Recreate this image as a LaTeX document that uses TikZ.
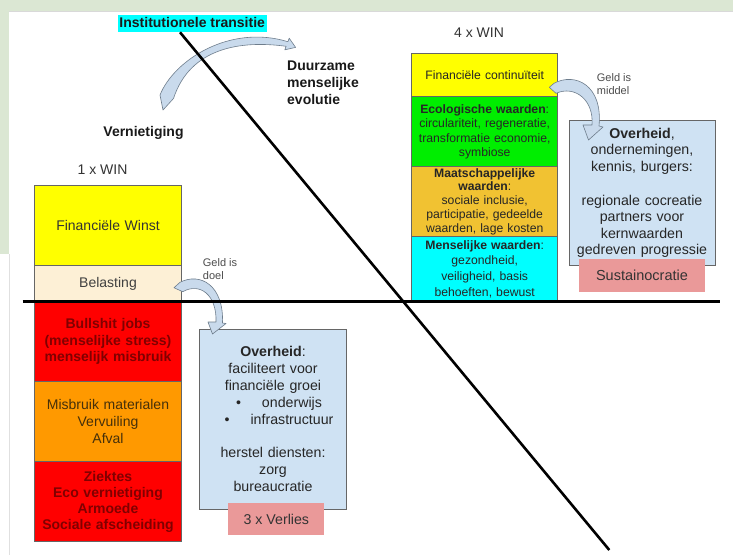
\documentclass[tikz,border=0pt]{standalone}
\usepackage{fontspec}
\setmainfont{Liberation Sans}
\usetikzlibrary{positioning}

\definecolor{achtergrond}{RGB}{219,231,211}
\definecolor{geel}{RGB}{255,255,0}
\definecolor{room}{RGB}{253,240,214}
\definecolor{rood}{RGB}{255,0,0}
\definecolor{oranje}{RGB}{255,153,0}
\definecolor{groen}{RGB}{0,238,0}
\definecolor{goud}{RGB}{241,194,50}
\definecolor{cyaan}{RGB}{0,255,255}
\definecolor{lichtblauw}{RGB}{207,226,243}
\definecolor{roze}{RGB}{234,153,153}
\definecolor{donkerrood}{RGB}{128,0,0}
\definecolor{bruin}{RGB}{70,48,10}
\definecolor{pijlblauw}{RGB}{201,218,236}
\definecolor{pijlrand}{RGB}{110,125,140}

\begin{document}
\begin{tikzpicture}[x=1pt,y=-1pt,
 vak/.style={draw=black!60, line width=0.7pt, minimum width=147pt, text width=142pt, align=center, inner sep=0pt, outer sep=0pt, font=\fontsize{14}{16.6}\selectfont},
 rvak/.style={vak, minimum width=146pt, text=black!85, font=\fontsize{12.2}{14.4}\selectfont},
 blauwvak/.style={vak, fill=lichtblauw, text width=145pt, text=black!85},
 rozevak/.style={fill=roze, inner sep=0pt, outer sep=0pt, text=black!80, font=\fontsize{14.2}{17}\selectfont},
 kop/.style={inner sep=0pt, text=black!90, font=\bfseries\fontsize{14}{17}\selectfont},
 gewoon/.style={inner sep=0pt, text=black!80, font=\fontsize{14}{17}\selectfont},
 klein/.style={inner sep=0pt, anchor=west, align=left, text=black!70, font=\fontsize{11}{13}\selectfont},
 pijl/.style={fill=pijlblauw, draw=pijlrand, line width=0.6pt, line join=round}]
 \useasboundingbox (0,0) rectangle (733,555);

 % achtergrond
 \fill[white] (0,0) rectangle (733,555);
 \fill[achtergrond] (0,0) rectangle (733,11);
 \fill[achtergrond] (0,0) rectangle (8.5,254);
 \draw[black!15, line width=0.8pt] (8.5,11.5) -- (733,11.5);
 \draw[black!12, line width=0.8pt] (9,254) -- (9,555);

 %%%%%%%%%%%%%%%%%%%%%%%%%%%%%%%%%%%
 \node[kop, fill=cyaan, inner xsep=1.8pt, inner ysep=2pt, text height=10.5pt, text depth=3pt] (titel) at (192.2,23.7) {Institutionele transitie};
 \node[kop, anchor=west, align=left] (duurzaam) at (287,82.3) {Duurzame\\menselijke\\evolutie};
 \node[kop] (vernietiging) at (143.5,133.3) {Vernietiging};
 \node[gewoon] (eenwin) at (102.5,170) {1 x WIN};
 \node[gewoon] (vierwin) at (479,33) {4 x WIN};

 %%%% links: 1 x WIN
 \node[vak, fill=geel, minimum height=80.7pt, text=black!80] (winst) at (108,225.3) {Financiële Winst};
 \node[vak, fill=room, minimum height=35.8pt, below=0pt of winst, text=black!75] (belasting) {Belasting};
 \node[vak, fill=rood, minimum height=80pt, below=0pt of belasting, text=donkerrood, font=\bfseries\fontsize{14}{16.6}\selectfont] (bullshit) {Bullshit jobs\\(menselijke stress)\\menselijk misbruik};
 \node[vak, fill=oranje, minimum height=80pt, below=0pt of bullshit, text=bruin] (misbruik) {Misbruik materialen\\Vervuiling\\Afval};
 \node[vak, fill=rood, minimum height=80pt, below=0pt of misbruik, text=donkerrood, font=\bfseries\fontsize{14}{16}\selectfont] (ziektes) {Ziektes\\Eco vernietiging\\Armoede\\Sociale afscheiding};

 \node[blauwvak, minimum height=180pt, font=\fontsize{14.2}{16.9}\selectfont] (overheidL) at (273,419) {\textbf{Overheid}:\\faciliteert voor\\financiële groei\\\hspace*{12pt}\textbullet\hspace{21pt}onderwijs\\\hspace*{12pt}\textbullet\hspace{21pt}infrastructuur\\[16.9pt]herstel diensten:\\zorg\\bureaucratie};
 \node[rozevak, minimum width=96pt, minimum height=32pt, below=-6pt of overheidL, xshift=3.3pt] (verlies) {3 x Verlies};
 \node[klein] (doel) at (202.7,269) {Geld is\\doel};

 %%%% rechts: 4 x WIN
 \node[rvak, fill=geel, minimum height=43.4pt] (continuiteit) at (484.7,75) {Financiële continuïteit};
 \node[rvak, fill=groen, minimum height=70pt, below=0pt of continuiteit] (ecologisch) {\textbf{Ecologische waarden}:\\circulariteit, regeneratie,\\transformatie economie,\\symbiose};
 \node[rvak, fill=goud, minimum height=70pt, below=0pt of ecologisch, font=\fontsize{12.2}{13.9}\selectfont] (maatschappelijk) {\textbf{Maatschappelijke}\\\textbf{waarden}:\\sociale inclusie,\\participatie, gedeelde\\waarden, lage kosten};
 \node[rvak, fill=cyaan, minimum height=64.8pt, below=0pt of maatschappelijk, font=\fontsize{12.2}{15.8}\selectfont] (menselijk) {\textbf{Menselijke waarden}:\\gezondheid,\\veiligheid, basis\\behoeften, bewust};

 \node[blauwvak, minimum width=146pt, minimum height=145.7pt, font=\fontsize{14.2}{16.4}\selectfont] (overheidR) at (642,192.9) {\textbf{Overheid},\\ondernemingen,\\kennis, burgers:\\[18pt]regionale cocreatie\\partners voor\\kernwaarden\\gedreven progressie};
 \node[rozevak, minimum width=126.7pt, minimum height=32.7pt, below=-6.7pt of overheidR, font=\fontsize{14.5}{17}\selectfont] (sustain) {Sustainocratie};
 \node[klein] (middel) at (596.7,83.7) {Geld is\\middel};

 %%%% pijlen
 \draw[pijl] (160,95) .. controls (174,60) and (230,24) .. (287.9,41.7) -- (289.2,38.2) -- (295.6,47.4) -- (284.8,49.8) -- (286.1,46.3) .. controls (240,40) and (190,48) .. (173.5,98.5) -- (163,110) -- cycle;
 \draw[pijl] (180,282.3) .. controls (200,272) and (224,285) .. (222.5,323) -- (226,323.5) -- (212.5,334) -- (208,322) -- (216,322) .. controls (217,295) and (200,282) .. (182.7,291.7) -- (174,287.7) -- cycle;
 \draw[pijl] (554,83.3) .. controls (575,72) and (603,85) .. (599,126) -- (603,127) -- (588.5,140) -- (583,125) -- (592,125) .. controls (594,100) and (575,85) .. (556,93.3) -- (549.3,87.3) -- cycle;

 %%%% lijnen
 \coordinate (schuinboven) at (180,32.3);
 \coordinate (schuinonder) at (609.3,550);
 \coordinate (horlinks) at (22.7,301.5);
 \coordinate (horrechts) at (720,301.5);
 \draw[line width=2.6pt] (schuinboven) -- (schuinonder);
 \draw[line width=3pt] (horlinks) -- (horrechts);
\end{tikzpicture}
\end{document}
